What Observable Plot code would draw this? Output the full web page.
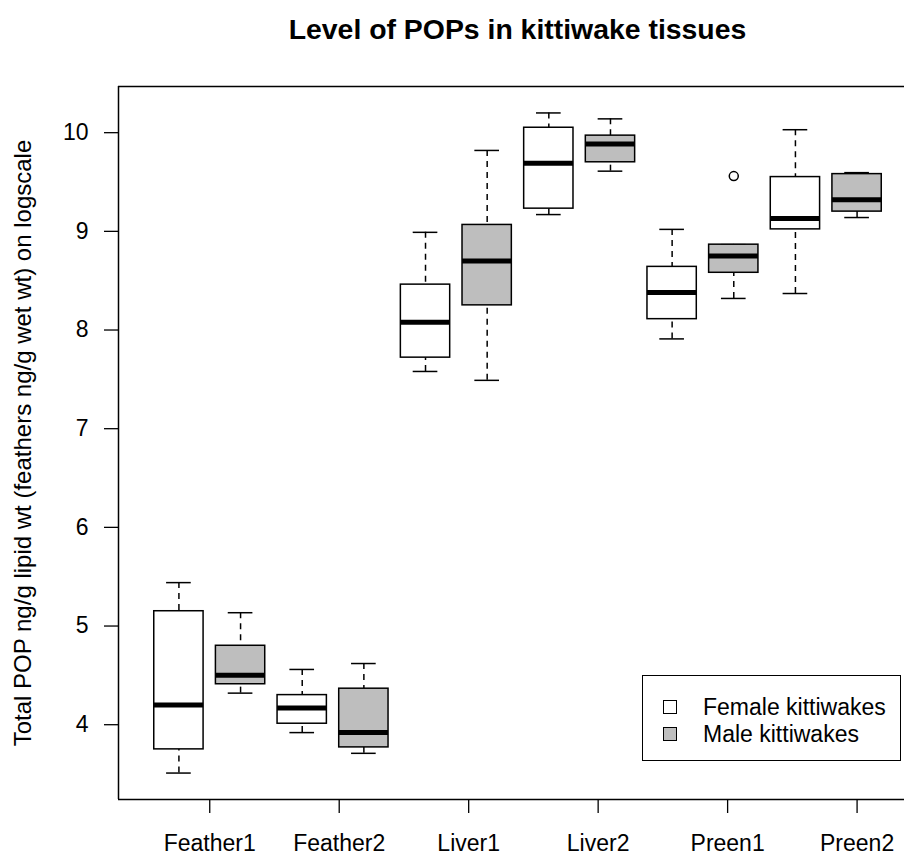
<!DOCTYPE html>
<html>
<head>
<meta charset="utf-8">
<script src="https://cdn.jsdelivr.net/npm/d3@7"></script>
<script src="https://cdn.jsdelivr.net/npm/@observablehq/plot@0.6"></script>
<style>
  html, body { margin: 0; padding: 0; background: #fff; overflow: hidden; }
  body { width: 904px; height: 856px; position: relative; font-family: "Liberation Sans", Arial, sans-serif; }
  #title { height: 60px; box-sizing: border-box; padding-top: 15px; padding-left: 131px; text-align: center;
           font-size: 28.4px; line-height: 28px; font-weight: bold; color: #000; }
  #legend { position: absolute; left: 642px; top: 675px; width: 257px; height: 84px; border: 1.5px solid #000;
            background: #fff; font-size: 23px; color: #000; }
  .item { position: absolute; left: 20px; height: 27px; line-height: 27px; }
  .sw { position: absolute; left: 0; top: 6px; width: 12px; height: 12px; border: 1.5px solid #000; }
  .lab { position: absolute; left: 40px; top: 0; white-space: nowrap; }
</style>
</head>
<body>
<div id="title">Level of POPs in kittiwake tissues</div>
<div id="chart"></div>
<div id="legend"></div>
<script>
// ---- data ----
const tissues = ["Feather1", "Feather2", "Liver1", "Liver2", "Preen1", "Preen2"];
const sexes = ["Female kittiwakes", "Male kittiwakes"];
const sexColors = ["#ffffff", "#bebebe"];
// one entry per box, ordered Feather1 F, Feather1 M, Feather2 F, ...
const boxTissue = ["Feather1","Feather1","Feather2","Feather2","Liver1","Liver1","Liver2","Liver2","Preen1","Preen1","Preen2","Preen2"];
const boxSex    = ["Female kittiwakes","Male kittiwakes","Female kittiwakes","Male kittiwakes","Female kittiwakes","Male kittiwakes","Female kittiwakes","Male kittiwakes","Female kittiwakes","Male kittiwakes","Female kittiwakes","Male kittiwakes"];
const whiskerLow  = [3.51, 4.32, 3.92, 3.71, 7.58, 7.49, 9.17, 9.61, 7.91, 8.32, 8.37, 9.14];
const q1          = [3.75, 4.41, 4.01, 3.77, 7.72, 8.25, 9.23, 9.70, 8.11, 8.58, 9.02, 9.20];
const median      = [4.20, 4.50, 4.17, 3.92, 8.08, 8.70, 9.69, 9.885, 8.38, 8.75, 9.13, 9.32];
const q3          = [5.15, 4.80, 4.30, 4.365, 8.46, 9.065, 10.05, 9.97, 8.64, 8.865, 9.55, 9.58];
const whiskerHigh = [5.44, 5.135, 4.56, 4.62, 8.99, 9.82, 10.20, 10.14, 9.02, 8.865, 10.03, 9.595];
// outliers: box number (1-based) and value
const outlierBox = [10];
const outlierValue = [9.56];
// x-axis tick positions (in box-number units) and y ticks
const xTickPositions = [1.5, 3.6, 5.7, 7.8, 9.9, 12];
const yTicks = [4, 5, 6, 7, 8, 9, 10];
const yLabel = "Total POP ng/g lipid wt (feathers ng/g wet wt) on logscale";

// ---- build table ----
const boxes = boxTissue.map((t, i) => ({
  pos: i + 1, tissue: t, sex: boxSex[i],
  lo: whiskerLow[i], q1: q1[i], med: median[i], q3: q3[i], hi: whiskerHigh[i]
}));
const outliers = outlierBox.map((b, i) => ({pos: b, value: outlierValue[i]}));

const font = "Liberation Sans, Arial, sans-serif";
const yMin = 3.242, yMax = 10.468;

const chart = Plot.plot({
  width: 904,
  height: 796,
  marginLeft: 118,
  marginRight: 0,
  marginTop: 26,
  marginBottom: 57,
  style: {fontFamily: font, color: "#000", background: "transparent", overflow: "visible"},
  x: {type: "linear", domain: [0.02, 12.98], range: [118, 917], axis: null},
  y: {domain: [yMin, yMax], axis: null},
  color: {domain: sexes, range: sexColors},
  marks: [
    // whiskers (dashed) from whisker end to box edge
    Plot.ruleX(boxes, {x: "pos", y1: "hi", y2: "q3", stroke: "#000", strokeWidth: 1.5, strokeDasharray: "6,5"}),
    Plot.ruleX(boxes, {x: "pos", y1: "lo", y2: "q1", stroke: "#000", strokeWidth: 1.5, strokeDasharray: "6,5"}),
    // staples
    Plot.ruleY(boxes, {y: "hi", x1: d => d.pos - 0.2, x2: d => d.pos + 0.2, stroke: "#000", strokeWidth: 1.5}),
    Plot.ruleY(boxes, {y: "lo", x1: d => d.pos - 0.2, x2: d => d.pos + 0.2, stroke: "#000", strokeWidth: 1.5}),
    // boxes
    Plot.rect(boxes, {x1: d => d.pos - 0.4, x2: d => d.pos + 0.4, y1: "q1", y2: "q3", fill: "sex", stroke: "#000", strokeWidth: 1.5}),
    // medians
    Plot.ruleY(boxes, {y: "med", x1: d => d.pos - 0.4, x2: d => d.pos + 0.4, stroke: "#000", strokeWidth: 5}),
    // outliers
    Plot.dot(outliers, {x: "pos", y: "value", r: 4.5, stroke: "#000", fill: "none", strokeWidth: 1.5}),
    // frame (left, top, bottom)
    Plot.ruleX([0.02], {stroke: "#000", strokeWidth: 1.5}),
    Plot.ruleY([yMin, yMax], {stroke: "#000", strokeWidth: 1.5}),
    // axes
    Plot.axisY({ticks: yTicks, tickSize: 14, tickPadding: 16, fontSize: 23, label: null, stroke: "#000", strokeWidth: 1.3}),
    Plot.axisX({ticks: xTickPositions, tickFormat: (d, i) => tissues[xTickPositions.indexOf(d)], tickSize: 14, tickPadding: 21, fontSize: 23, label: null, stroke: "#000", strokeWidth: 1.3}),
    Plot.text([yLabel], {text: d => d, frameAnchor: "left", dx: -95, rotate: -90, textAnchor: "middle", lineAnchor: "middle", fontSize: 24, fill: "#000"})
  ]
});
document.getElementById("chart").appendChild(chart);

// legend
const legend = document.getElementById("legend");
sexes.forEach((s, i) => {
  const item = document.createElement("div");
  item.className = "item";
  item.style.top = (18 + i * 27) + "px";
  const sw = document.createElement("div");
  sw.className = "sw";
  sw.style.background = sexColors[i];
  const lab = document.createElement("div");
  lab.className = "lab";
  lab.textContent = s;
  item.appendChild(sw); item.appendChild(lab);
  legend.appendChild(item);
});
</script>
</body>
</html>
